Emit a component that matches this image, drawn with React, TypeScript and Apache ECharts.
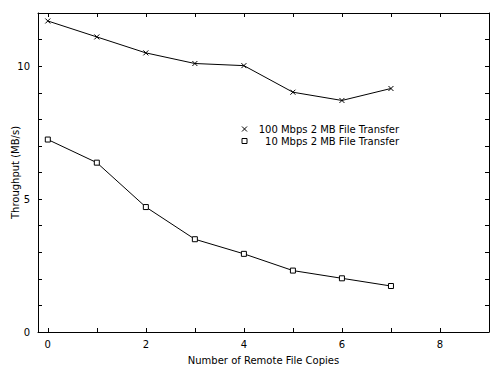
import React, { useEffect, useRef } from "react";
import * as echarts from "echarts";

const copies = [0, 1, 2, 3, 4, 5, 6, 7];
const mbps100 = [11.7, 11.1, 10.5, 10.1, 10.02, 9.02, 8.71, 9.16];
const mbps10 = [7.24, 6.37, 4.7, 3.49, 2.94, 2.31, 2.02, 1.73];
const seriesNames = ["100 Mbps 2 MB File Transfer", "10 Mbps 2 MB File Transfer"];
const xTickValues = [0, 1, 2, 3, 4, 5, 6, 7, 8, 9];
const xLabelValues = [0, 2, 4, 6, 8];
const yTickValues = [0, 1, 2, 3, 4, 5, 6, 7, 8, 9, 10, 11, 12];
const yLabelValues = [0, 5, 10];

const FONT = "DejaVu Sans";

export default function App() {
  const ref = useRef<HTMLDivElement>(null);
  useEffect(() => {
    if (!ref.current) return;
    const chart = echarts.init(ref.current, undefined, { renderer: "svg" });
    const line = { show: true, onZero: false, lineStyle: { color: "#000", width: 1 } };
    const xBase = (pos: "bottom" | "top", labels: boolean) => ({
      type: "value",
      position: pos,
      min: -0.2,
      max: 9,
      axisLine: line,
      axisTick: { show: true, inside: true, length: 4, customValues: xTickValues, lineStyle: { color: "#000" } },
      axisLabel: labels
        ? { show: true, customValues: xLabelValues, color: "#000", fontFamily: FONT, fontSize: 10, margin: 7 }
        : { show: false },
      splitLine: { show: false },
      name: labels ? "Number of Remote File Copies" : "",
      nameLocation: "middle",
      nameGap: 23,
      nameMoveOverlap: false,
      nameTextStyle: { color: "#000", fontFamily: FONT, fontSize: 10 },
    });
    const yBase = (pos: "left" | "right", labels: boolean) => ({
      type: "value",
      position: pos,
      min: 0,
      max: 12,
      interval: 1,
      axisLine: line,
      axisTick: { show: true, inside: true, length: 4, customValues: yTickValues, lineStyle: { color: "#000" } },
      axisLabel: labels
        ? { show: true, customValues: yLabelValues, color: "#000", fontFamily: FONT, fontSize: 10, margin: 8 }
        : { show: false },
      splitLine: { show: false },
      name: labels ? "Throughput (MB/s)" : "",
      nameLocation: "middle",
      nameGap: 18,
      nameMoveOverlap: false,
      nameTextStyle: { color: "#000", fontFamily: FONT, fontSize: 10 },
    });
    chart.setOption({
      animation: false,
      backgroundColor: "#fff",
      grid: { left: 38, right: 1, top: 13, bottom: 34, outerBoundsMode: "none", containLabel: false },
      xAxis: [xBase("bottom", true), xBase("top", false)],
      yAxis: [yBase("left", true), yBase("right", false)],
      legend: {
        orient: "vertical",
        left: 241.5,
        top: 123,
        itemWidth: 5,
        itemHeight: 5,
        itemGap: 0,
        padding: 0,
        textStyle: {
          color: "#000",
          fontFamily: FONT,
          fontSize: 10,
          lineHeight: 12,
          rich: { t: { width: 147, align: "right", fontFamily: FONT, fontSize: 10, lineHeight: 12 } },
        },
        formatter: (n: string) => `{t|${n}}`,
        data: [
          {
            name: seriesNames[0],
            icon: "path://M0,0L10,10M10,0L0,10",
            itemStyle: { color: "transparent", borderColor: "#000", borderWidth: 1 },
          },
          {
            name: seriesNames[1],
            icon: "rect",
            itemStyle: { color: "#fff", borderColor: "#000", borderWidth: 1 },
          },
        ],
      },
      series: [
        {
          name: seriesNames[0],
          type: "line",
          data: copies.map((c, i) => [c, mbps100[i]]),
          symbol: "path://M0,0L10,10M10,0L0,10",
          symbolSize: 5,
          lineStyle: { color: "#000", width: 1 },
          itemStyle: { color: "transparent", borderColor: "#000", borderWidth: 1 },
        },
        {
          name: seriesNames[1],
          type: "line",
          data: copies.map((c, i) => [c, mbps10[i]]),
          symbol: "rect",
          symbolSize: 5,
          lineStyle: { color: "#000", width: 1 },
          itemStyle: { color: "#fff", borderColor: "#000", borderWidth: 1 },
        },
      ],
    });
    return () => chart.dispose();
  }, []);
  return (
    <div
      ref={ref}
      style={{ position: "absolute", left: 0, top: 0, width: 490, height: 366 }}
    />
  );
}
